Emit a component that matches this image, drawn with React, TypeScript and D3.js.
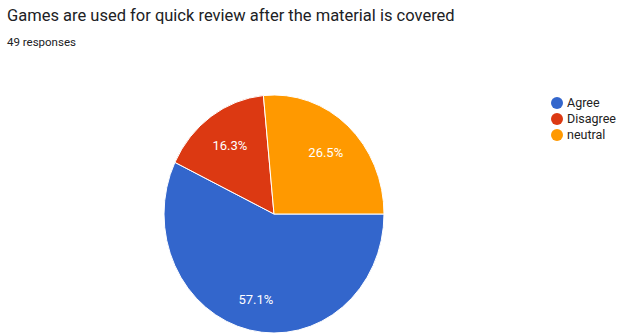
import React from "react";
import * as d3 from "d3";

const categories = ["Agree", "Disagree", "neutral"];
const counts = [28, 8, 13];
const colors = ["#3366cc", "#dc3912", "#ff9900"];
const title = "Games are used for quick review after the material is covered";
const subtitle = "49 responses";

export default function App() {
  const W = 627, H = 334;
  const cx = 274, cy = 214, rx = 110, ry = 119;
  const total = d3.sum(counts);
  const pie = d3.pie<number>().sort(null).startAngle(Math.PI / 2).endAngle(Math.PI / 2 + 2 * Math.PI);
  const arcs = pie(counts);
  const arc = d3.arc<d3.PieArcDatum<number>>().innerRadius(0).outerRadius(rx);
  const fmt = d3.format(".1%");
  return (
    <svg width={W} height={H} style={{ position: "absolute", left: 0, top: 0, background: "#fff" }}>
      <rect width={W} height={H} fill="#fff" />
      <text x={7} y={21} fontFamily="Roboto, Arial, sans-serif" fontSize={16.5} fill="#202124">{title}</text>
      <text x={7} y={46} fontFamily="Roboto, Arial, sans-serif" fontSize={11.5} fill="#202124">{subtitle}</text>
      <g transform={`translate(${cx},${cy}) scale(1,${ry / rx})`}>
        {arcs.map((a, i) => (
          <path key={i} d={arc(a) || ""} fill={colors[i]} stroke="#fff" strokeWidth={1} vectorEffect="non-scaling-stroke" />
        ))}
      </g>
      {arcs.map((a, i) => {
        const m = (a.startAngle + a.endAngle) / 2;
        const k = i === 0 ? 0.74 : 0.7;
        const x = cx + Math.sin(m) * rx * k;
        const y = cy - Math.cos(m) * ry * k;
        return (
          <text key={i} x={x} y={y} dy="0.35em" textAnchor="middle" fontFamily="Roboto, Arial, sans-serif" fontSize={13} fill="#fff">
            {fmt(counts[i] / total)}
          </text>
        );
      })}
      {categories.map((c, i) => (
        <g key={c} transform={`translate(557,${103 + i * 16})`}>
          <circle r={6} fill={colors[i]} />
          <text x={10} dy="0.35em" fontFamily="Roboto, Arial, sans-serif" fontSize={12.5} fill="#222">{c}</text>
        </g>
      ))}
    </svg>
  );
}
